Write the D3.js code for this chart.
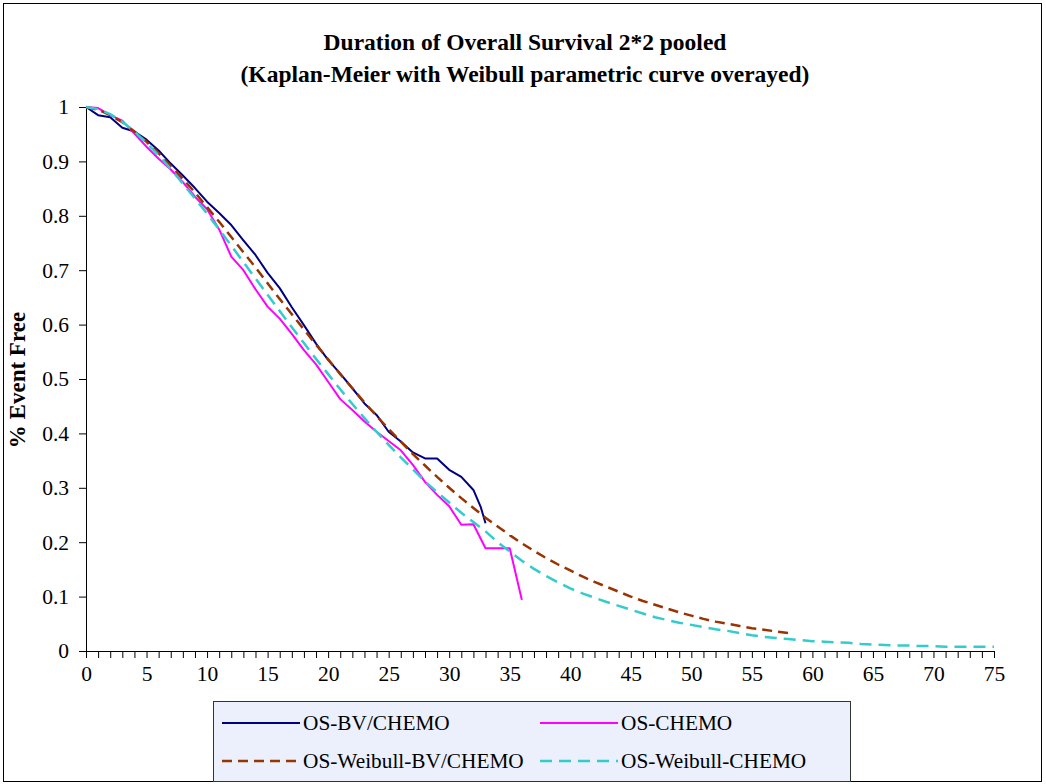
<!DOCTYPE html>
<html><head><meta charset="utf-8">
<script src="https://cdn.jsdelivr.net/npm/d3@7"></script>
<style>body{margin:0;background:#fff}svg{display:block}</style>
</head><body>
<svg id="c" width="1046" height="784"></svg>
<script>
const titleLines = ["Duration of Overall Survival 2*2 pooled", "(Kaplan-Meier with Weibull parametric curve overayed)"];
const yTitle = "% Event Free";
const xTicks = d3.range(0, 80, 5);
const yTicks = [0, 0.1, 0.2, 0.3, 0.4, 0.5, 0.6, 0.7, 0.8, 0.9, 1];
const seriesNames = ["OS-BV/CHEMO", "OS-CHEMO", "OS-Weibull-BV/CHEMO", "OS-Weibull-CHEMO"];

const kmBvTime = [0,1,2,3,4,5,6,7,8,9,10,11,12,13,14,15,16,17,18,19,20,21,22,23,24,25,26,27,28,29,30,31,32,32.6,33];
const kmBvSurv = [1,0.985,0.981,0.962,0.955,0.94,0.92,0.896,0.874,0.851,0.826,0.805,0.783,0.755,0.728,0.695,0.667,0.632,0.599,0.565,0.535,0.51,0.483,0.455,0.434,0.403,0.385,0.365,0.354,0.354,0.333,0.32,0.296,0.265,0.235];

const kmChTime = [0,1,2,3,4,5,6,7,8,9,10,11,12,13,14,15,16,17,18,19,20,21,22,23,24,25,26,27,28,29,30,31,32,33,34,35,36];
const kmChSurv = [1,0.998,0.985,0.975,0.951,0.927,0.905,0.885,0.862,0.835,0.812,0.775,0.725,0.70,0.665,0.633,0.611,0.583,0.553,0.527,0.495,0.463,0.443,0.422,0.403,0.386,0.369,0.342,0.311,0.287,0.266,0.232,0.233,0.189,0.189,0.189,0.094];

const wbBvTime = d3.range(0, 59);
const wbBvSurv = [1,0.995,0.985,0.972,0.955,0.936,0.915,0.892,0.868,0.843,0.816,0.789,0.761,0.733,0.705,0.676,0.647,0.619,0.591,0.563,0.536,0.509,0.483,0.457,0.432,0.408,0.385,0.362,0.341,0.320,0.300,0.281,0.263,0.245,0.229,0.213,0.198,0.184,0.171,0.159,0.148,0.137,0.127,0.118,0.109,0.100,0.092,0.085,0.078,0.071,0.065,0.059,0.054,0.050,0.046,0.042,0.039,0.036,0.033];

const wbChTime = d3.range(0, 76);
const wbChSurv = [1,0.996,0.987,0.973,0.955,0.934,0.911,0.886,0.859,0.832,0.804,0.775,0.745,0.715,0.685,0.655,0.625,0.595,0.566,0.537,0.509,0.481,0.454,0.428,0.403,0.379,0.356,0.334,0.312,0.292,0.273,0.254,0.237,0.220,0.200,0.183,0.166,0.151,0.138,0.126,0.115,0.106,0.098,0.090,0.083,0.076,0.069,0.062,0.057,0.052,0.048,0.044,0.040,0.037,0.033,0.029,0.026,0.024,0.022,0.020,0.018,0.017,0.016,0.015,0.013,0.012,0.011,0.010,0.010,0.009,0.009,0.008,0.008,0.008,0.008,0.008];

const svg = d3.select("#c");
const serif = "'Liberation Serif','Times New Roman',serif";
const x = d3.scaleLinear().domain([0, 75]).range([86, 994]);
const y = d3.scaleLinear().domain([0, 1]).range([651, 107]);

// outer frame
svg.append("rect").attr("x", 3.5).attr("y", 3.5).attr("width", 1038).attr("height", 778)
  .attr("fill", "#fff").attr("stroke", "#000").attr("stroke-width", 1);

// title
svg.append("g").selectAll("text").data(titleLines).join("text")
  .attr("x", 525).attr("y", (d, i) => 50 + i * 32)
  .attr("text-anchor", "middle").attr("font-family", serif)
  .attr("font-weight", "bold").attr("font-size", 23.5).text(d => d);

// axes
const xAxis = d3.axisBottom(x).tickValues(d3.range(0, 76, 1)).tickSize(7)
  .tickFormat(d => d % 5 === 0 ? d : "");
const gx = svg.append("g").attr("transform", "translate(0,651)").call(xAxis);
gx.selectAll("text").attr("font-family", serif).attr("font-size", 21.5).attr("fill", "#000").attr("dy", "0.95em");
gx.select(".domain").attr("stroke", "#000");
gx.selectAll(".tick line").attr("stroke", "#000");

const yAxis = d3.axisLeft(y).tickValues(yTicks).tickSize(7).tickPadding(10).tickFormat(d => d3.format("")(+d.toFixed(1)));
const gy = svg.append("g").attr("transform", "translate(86,0)").call(yAxis);
gy.selectAll("text").attr("font-family", serif).attr("font-size", 21.5).attr("fill", "#000");
gy.select(".domain").attr("stroke", "#000");
gy.selectAll(".tick line").attr("stroke", "#000");

svg.append("text").attr("transform", "translate(25,380) rotate(-90)")
  .attr("text-anchor", "middle").attr("font-family", serif).attr("font-weight", "bold")
  .attr("font-size", 23).text(yTitle);

// series
const series = [
  {t: kmBvTime, s: kmBvSurv, color: "#000080", dash: null, w: 2},
  {t: kmChTime, s: kmChSurv, color: "#FF00FF", dash: null, w: 2},
  {t: wbBvTime, s: wbBvSurv, color: "#993300", dash: "10,6", w: 2.5},
  {t: wbChTime, s: wbChSurv, color: "#33CCCC", dash: "12,7", w: 2.5}
];
const line = d3.line().x(d => x(d[0])).y(d => y(d[1]));
series.forEach(sr => {
  const pts = sr.t.map((t, i) => [t, sr.s[i]]);
  svg.append("path").datum(pts).attr("d", line).attr("fill", "none")
    .attr("stroke", sr.color).attr("stroke-width", sr.w)
    .attr("stroke-dasharray", sr.dash).attr("stroke-linejoin", "round");
});

// legend
const lg = svg.append("g");
lg.append("rect").attr("x", 213.5).attr("y", 701.5).attr("width", 637).attr("height", 80)
  .attr("fill", "#EBF0FC").attr("stroke", "#333").attr("stroke-width", 1);
const legPos = [[222, 723], [540, 723], [222, 761], [540, 761]];
series.forEach((sr, i) => {
  const [lx, ly] = legPos[i];
  lg.append("line").attr("x1", lx).attr("x2", lx + 78).attr("y1", ly).attr("y2", ly)
    .attr("stroke", sr.color).attr("stroke-width", sr.w).attr("stroke-dasharray", sr.dash);
  lg.append("text").attr("x", lx + 81).attr("y", ly + 7).attr("font-family", serif)
    .attr("font-size", 21.3).text(seriesNames[i]);
});
</script>
</body></html>
